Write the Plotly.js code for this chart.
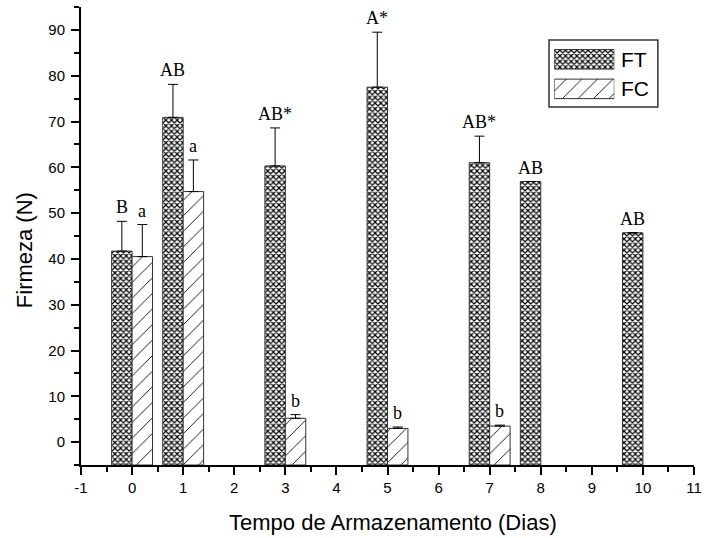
<!DOCTYPE html>
<html>
<head>
<meta charset="utf-8">
<script src="https://cdn.plot.ly/plotly-3.0.1.min.js"></script>
<style>html,body{margin:0;padding:0;background:#fff;}#chart{width:706px;height:538px;}</style>
</head>
<body>
<div id="chart"></div>
<script>
// Data
var ftDays = [0, 1, 3, 5, 7, 8, 10];
var ftValues = [41.7, 70.9, 60.3, 77.5, 61.0, 56.9, 45.7];
var ftErrors = [6.5, 7.2, 8.3, 12.0, 5.8, 0, 0];
var ftLabels = ["B", "AB", "AB*", "A*", "AB*", "AB", "AB"];

var fcDays = [0, 1, 3, 5, 7];
var fcValues = [40.5, 54.7, 5.2, 3.0, 3.5];
var fcErrors = [7.0, 6.9, 0.8, 0.3, 0.2];
var fcLabels = ["a", "a", "b", "b", "b"];

var seriesNames = ["FT", "FC"];

var xTickVals = [-1, 0, 1, 2, 3, 4, 5, 6, 7, 8, 9, 10, 11];
var xTickText = ["-1", "0", "1", "2", "3", "4", "5", "6", "7", "8", "9", "10", "11"];
var yTickVals = [0, 10, 20, 30, 40, 50, 60, 70, 80, 90];
var yTickText = ["0", "10", "20", "30", "40", "50", "60", "70", "80", "90"];

var xTitle = "Tempo de Armazenamento (Dias)";
var yTitle = "Firmeza (N)";

var AXIS_BASE = -5;
var ftPattern = {shape: "x", size: 4, solidity: 0.5, fgcolor: "#000", bgcolor: "#fff"};
var fcPattern = {shape: "/", size: 11, solidity: 0.08, fgcolor: "#000", bgcolor: "#fff"};
var barLine = {color: "#333", width: 1};

var sans = "Arial, 'Liberation Sans', sans-serif";
var serif = "'Times New Roman', 'Liberation Serif', serif";

var traces = [
  {
    type: "bar", name: seriesNames[0], x: ftDays,
    y: ftValues.map(function(v){ return v - AXIS_BASE; }),
    base: AXIS_BASE, offset: -0.4, width: 0.4,
    marker: {color: "#fff", line: barLine, pattern: ftPattern},
    error_y: {type: "data", symmetric: false, array: ftErrors, arrayminus: ftErrors.map(function(){return 0;}), color: "#000", thickness: 1, width: 5},
    showlegend: false, hoverinfo: "skip"
  },
  {
    type: "bar", name: seriesNames[1], x: fcDays,
    y: fcValues.map(function(v){ return v - AXIS_BASE; }),
    base: AXIS_BASE, offset: 0, width: 0.4,
    marker: {color: "#fff", line: barLine, pattern: fcPattern},
    error_y: {type: "data", symmetric: false, array: fcErrors, arrayminus: fcErrors.map(function(){return 0;}), color: "#000", thickness: 1, width: 5},
    showlegend: false, hoverinfo: "skip"
  },
  // legend swatches on an inset axis
  {
    type: "bar", orientation: "h", x: [1], y: [seriesNames[0]], xaxis: "x2", yaxis: "y2",
    marker: {color: "#fff", line: barLine, pattern: ftPattern}, showlegend: false, hoverinfo: "skip"
  },
  {
    type: "bar", orientation: "h", x: [1], y: [seriesNames[1]], xaxis: "x2", yaxis: "y2",
    marker: {color: "#fff", line: barLine, pattern: fcPattern}, showlegend: false, hoverinfo: "skip"
  }
];

var annotations = [];
ftDays.forEach(function(d, i){
  annotations.push({x: d - 0.2, y: ftValues[i] + ftErrors[i], xref: "x", yref: "y", text: ftLabels[i],
    showarrow: false, yanchor: "bottom", yshift: 2, font: {family: serif, size: 18, color: "#000"}});
});
fcDays.forEach(function(d, i){
  annotations.push({x: d + 0.2, y: fcValues[i] + fcErrors[i], xref: "x", yref: "y", text: fcLabels[i],
    showarrow: false, yanchor: "bottom", yshift: 2, font: {family: serif, size: 18, color: "#000"}});
});
seriesNames.forEach(function(n){
  annotations.push({x: 0.877, y: n, xref: "paper", yref: "y2", text: n, showarrow: false,
    xanchor: "left", yanchor: "middle", font: {family: sans, size: 21, color: "#000"}});
});
// axis titles
annotations.push({x: 0.509, y: -0.1245, xref: "paper", yref: "paper", text: xTitle, showarrow: false,
  xanchor: "center", yanchor: "middle", font: {family: sans, size: 22, color: "#000"}});
annotations.push({x: -0.093, y: 0.469, xref: "paper", yref: "paper", text: yTitle, showarrow: false,
  textangle: -90, xanchor: "center", yanchor: "middle", font: {family: sans, size: 22, color: "#000"}});

var layout = {
  width: 706, height: 538,
  margin: {l: 81, r: 12, t: 7, b: 73},
  paper_bgcolor: "#fff", plot_bgcolor: "#fff",
  barmode: "overlay",
  font: {family: sans, color: "#000"},
  xaxis: {
    range: [-1, 11], tickmode: "array", tickvals: xTickVals, ticktext: xTickText,
    showgrid: false, zeroline: false,
    showline: true, linecolor: "#000", linewidth: 2, mirror: false,
    ticks: "outside", ticklen: 8, tickwidth: 2, tickcolor: "#000",
    minor: {dtick: 0.5, ticks: "outside", ticklen: 5, tickwidth: 2, tickcolor: "#000"},
    tickfont: {family: sans, size: 15, color: "#000"}
  },
  yaxis: {
    range: [-5, 95], tickmode: "array", tickvals: yTickVals, ticktext: yTickText,
    showgrid: false, zeroline: false,
    showline: true, linecolor: "#000", linewidth: 2, mirror: false,
    ticks: "outside", ticklen: 8, tickwidth: 2, tickcolor: "#000", ticklabelstandoff: 3,
    minor: {tick0: 0, dtick: 5, ticks: "outside", ticklen: 5, tickwidth: 2, tickcolor: "#000"},
    tickfont: {family: sans, size: 15, color: "#000"}
  },
  xaxis2: {domain: [0.772, 0.870], range: [0, 1], visible: false, fixedrange: true},
  yaxis2: {domain: [0.789, 0.918], categoryorder: "array", categoryarray: [seriesNames[1], seriesNames[0]],
    visible: false, fixedrange: true},
  bargap: 0.34,
  shapes: [{type: "rect", xref: "paper", yref: "paper", x0: 0.7635, x1: 0.941, y0: 0.7817, y1: 0.928,
    line: {color: "#333", width: 1.5}, fillcolor: "rgba(0,0,0,0)"}],
  annotations: annotations
};

Plotly.newPlot("chart", traces, layout, {displayModeBar: false, staticPlot: true});
</script>
</body>
</html>
